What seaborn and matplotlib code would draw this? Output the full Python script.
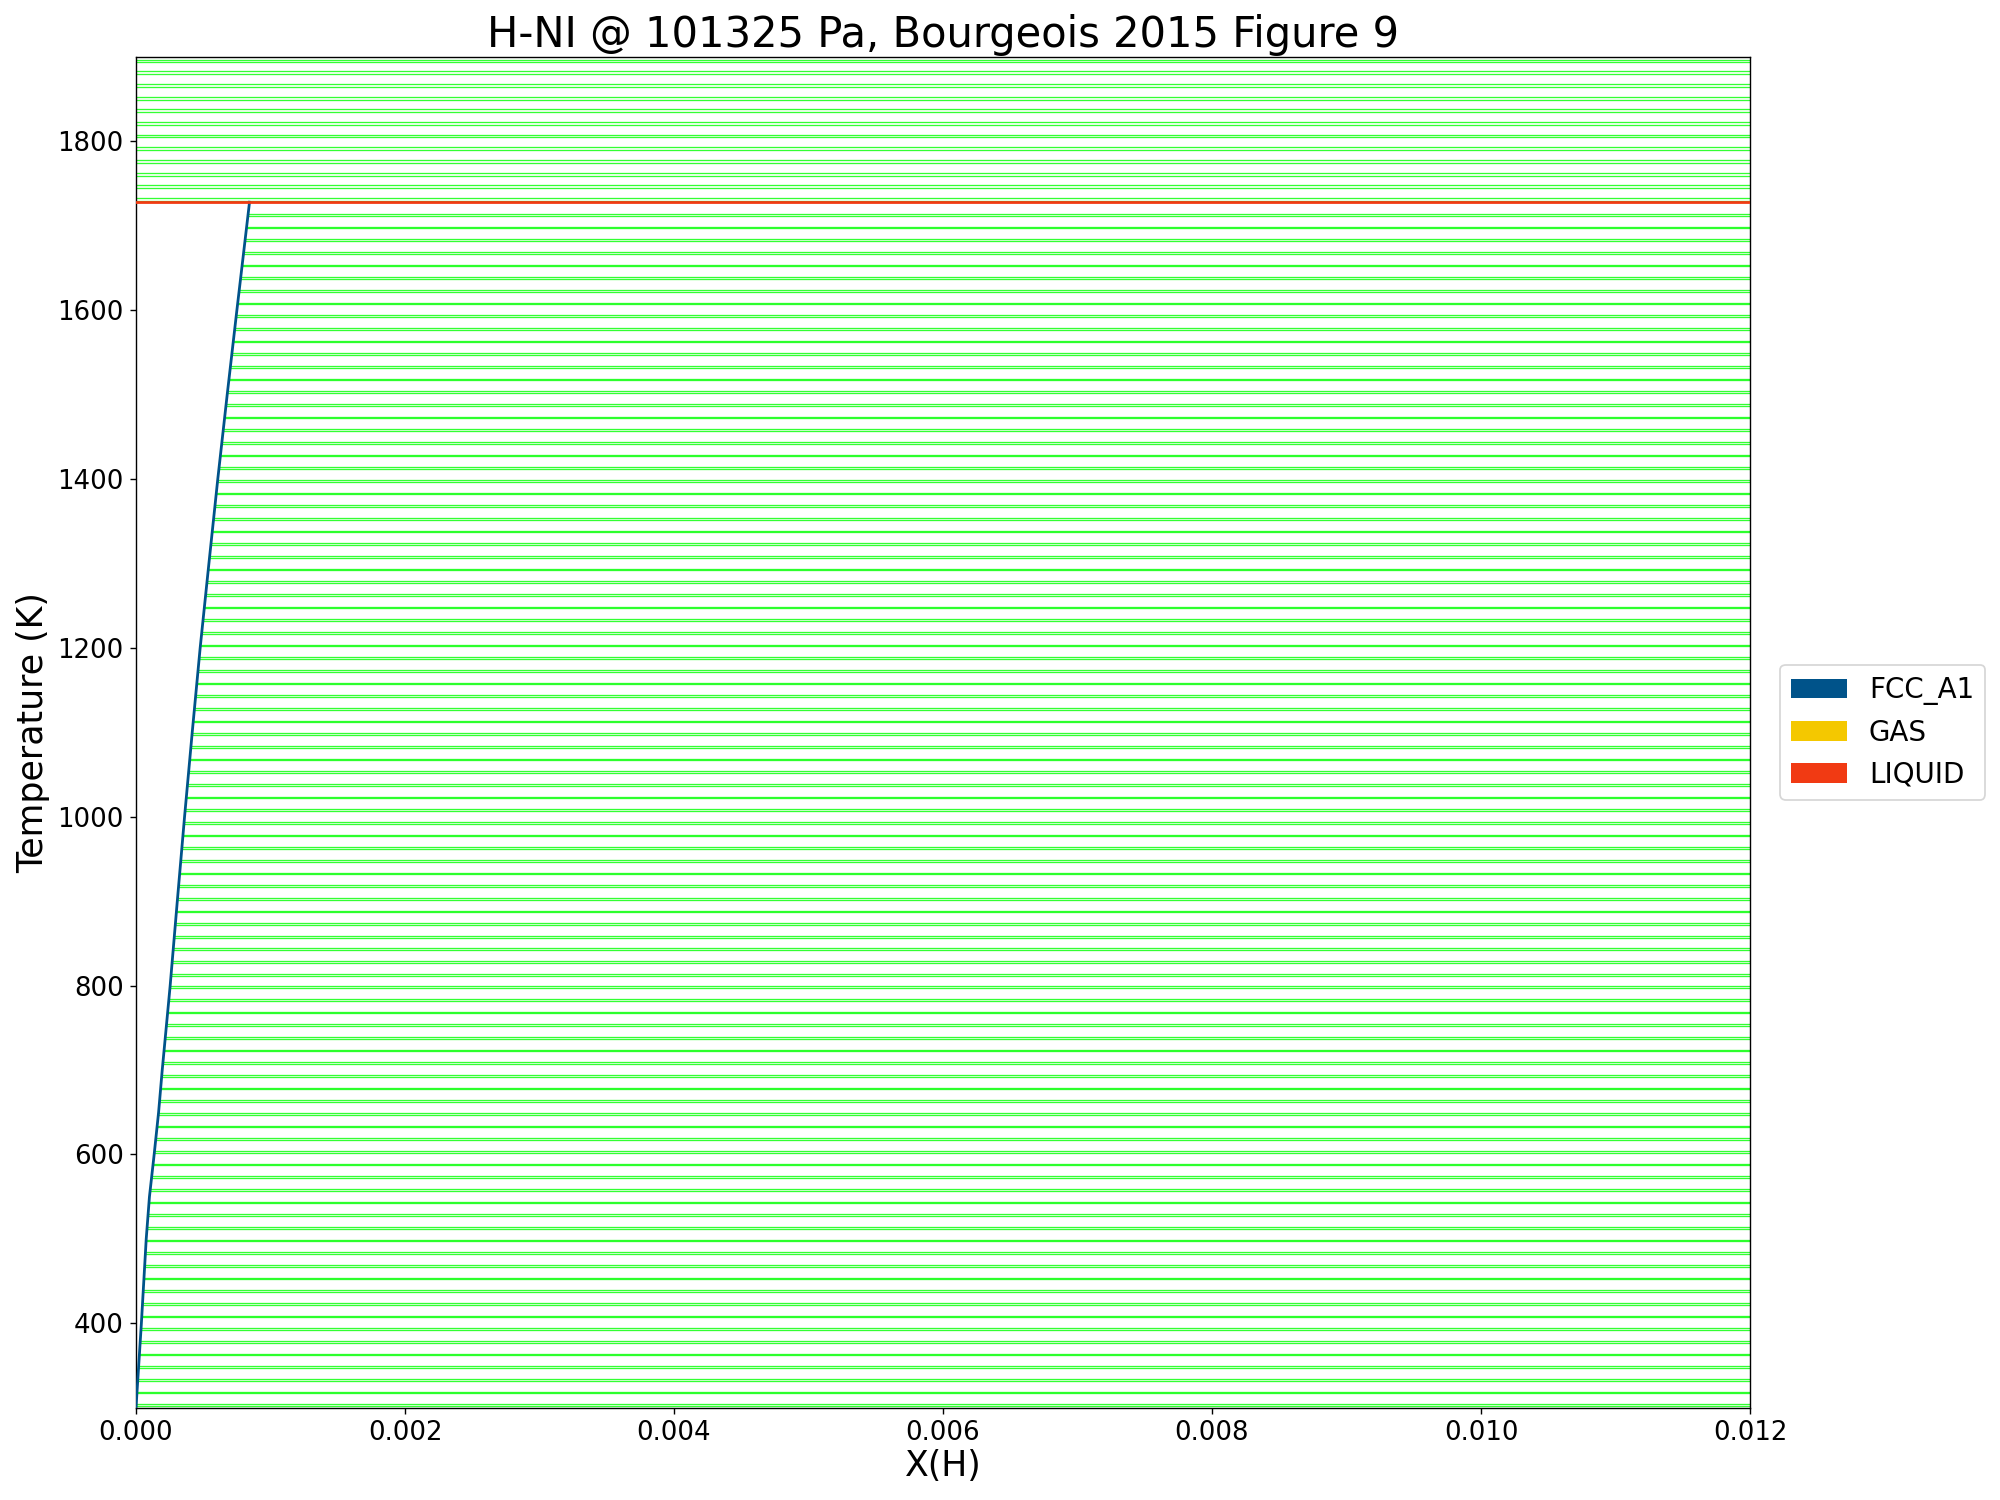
# -*- coding: utf-8 -*-
import numpy as np
import pandas as pd
import matplotlib
matplotlib.use("Agg")
import matplotlib.pyplot as plt
import seaborn as sns
from matplotlib.patches import Patch

# Frontera de la fase FCC_A1 (lado rico en Ni)
fcc_T = [300, 350, 400, 450, 500, 550, 600, 650, 700, 800, 900, 1000,
         1100, 1200, 1300, 1400, 1500, 1600, 1728]
fcc_x = [0.0, 0.000020, 0.000040, 0.000058, 0.000076, 0.000100, 0.000135,
         0.000168, 0.000195, 0.000254, 0.000307, 0.000361, 0.000418,
         0.000477, 0.000542, 0.000608, 0.000678, 0.000750, 0.000844]

# Invariante con el liquido
T_liquid = 1728

# Lineas de union FCC_A1 + GAS (pares)
fcc_hi = [1714, 1699, 1684, 1669, 1654, 1639, 1624, 1609, 1594, 1579,
          1564, 1549, 1534, 1519, 1504, 1489, 1474, 1459, 1444, 1429,
          1414, 1399, 1384, 1369, 1354, 1339, 1324, 1309, 1294, 1279,
          1264, 1249, 1234, 1219, 1204, 1189, 1174, 1159, 1144, 1129,
          1114, 1099, 1084, 1069, 1054, 1039, 1024, 1009, 994, 979,
          964, 949, 934, 919, 904, 889, 874, 859, 844, 829,
          814, 799, 784, 769, 754, 739, 724, 709, 694, 679,
          664, 649, 634, 619, 604, 589, 574, 559, 544, 529,
          514, 499, 484, 469, 454, 439, 424, 409, 394, 379,
          364, 349, 334, 319, 304]
fcc_lo = [1712, 1697, 1682, 1667, 1652, 1637, 1622, 1607, 1592, 1577,
          1562, 1547, 1532, 1517, 1502, 1487, 1472, 1457, 1442, 1427,
          1412, 1397, 1382, 1367, 1352, 1337, 1322, 1307, 1292, 1277,
          1262, 1247, 1232, 1217, 1202, 1187, 1172, 1157, 1142, 1127,
          1112, 1097, 1082, 1067, 1052, 1037, 1022, 1007, 992, 977,
          962, 947, 932, 917, 902, 887, 872, 857, 842, 827,
          812, 797, 782, 767, 752, 737, 722, 707, 692, 677,
          662, 647, 632, 617, 602, 587, 572, 557, 542, 527,
          512, 497, 482, 467, 452, 437, 422, 407, 392, 377,
          362, 347, 332, 317, 302]

# Lineas de union LIQUID + GAS (pares)
liq_hi = [1733, 1748, 1763, 1778, 1793, 1808, 1823, 1838, 1853, 1868, 1883, 1896]
liq_lo = [1730, 1745, 1759, 1775, 1790, 1805, 1820, 1835, 1849, 1865, 1880, 1894]

fases = ["FCC_A1", "GAS", "LIQUID"]
colores = ["#00538A", "#F4C800", "#F13A13"]

# Tabla larga de lineas de union (de x=0 a x=1, se recortan con xlim)
tie_T = fcc_hi + fcc_lo + liq_hi + liq_lo
ties = pd.DataFrame({
    "x": [0.0, 1.0] * len(tie_T),
    "T": [t for t in tie_T for _ in range(2)],
    "id": [i for i in range(len(tie_T)) for _ in range(2)],
})

fig, ax = plt.subplots(figsize=(16, 12), dpi=125)
fig.subplots_adjust(left=0.068, right=0.875, bottom=0.0615, top=0.962)

sns.lineplot(data=ties, x="x", y="T", units="id", estimator=None,
             color="#00ff00", alpha=0.8, linewidth=0.75, legend=False,
             ax=ax, zorder=1)

# Region monofasica FCC_A1 (blanca)
ax.fill_betweenx(fcc_T, 0, fcc_x, color="white", linewidth=0, zorder=2)

sns.lineplot(x=fcc_x, y=fcc_T, sort=False, estimator=None,
             color=colores[0], linewidth=1.6, ax=ax, zorder=3)
ax.plot([0, 1], [T_liquid, T_liquid], color=colores[2], linewidth=1.6, zorder=3)

ax.set_xlim(0, 0.012)
ax.set_ylim(300, 1900)
ax.set_title("H-NI @ 101325 Pa, Bourgeois 2015 Figure 9", fontsize=24)
ax.set_xlabel("X(H)", fontsize=20, labelpad=2)
ax.set_ylabel("Temperature (K)", fontsize=20)
ax.tick_params(labelsize=15)

handles = [Patch(facecolor=c, edgecolor="none", label=f) for f, c in zip(fases, colores)]
ax.legend(handles=handles, loc="center left", bbox_to_anchor=(1.01, 0.5), fontsize=16)

fig.savefig("out.png", dpi=125)
